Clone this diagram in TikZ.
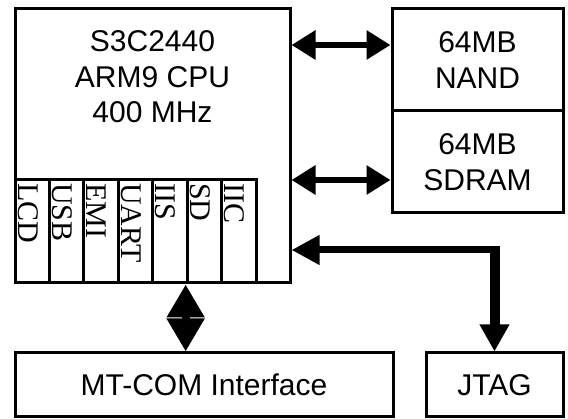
\documentclass[tikz,border=0pt]{standalone}
\usepackage{fontspec}
\setmainfont{Liberation Sans}
\newfontfamily\portfont{Liberation Serif}
\usepackage{tikz}
\usetikzlibrary{positioning,arrows.meta}

\tikzset{
  box/.style={draw, line width=3pt, inner sep=0pt},
  boxtext/.style={align=center, font=\fontsize{30}{35.5}\selectfont},
  port/.style={draw, line width=3pt, inner sep=0pt, minimum width=34.43pt, minimum height=103pt},
  portlabel/.style={rotate=-90, anchor=base west, inner sep=0pt, font=\portfont\fontsize{30}{30}\selectfont},
  bus/.style={line width=6pt, {Triangle[length=24pt,width=28pt]}-{Triangle[length=24pt,width=28pt]}},
}

\begin{document}
\begin{tikzpicture}[x=1pt, y=1pt]
\useasboundingbox (0,0) rectangle (568,419);

% CPU
\node[box, minimum width=275pt, minimum height=274pt] (cpu) at (152.5,273) {};
\node[boxtext] (cputext) at (152.5,342) {S3C2440\\ARM9 CPU\\400 MHz};

% Peripheral ports
\foreach \name/\txt [count=\i] in {lcd/LCD, usb/USB, emi/EMI, uart/UART, iis/IIS, sd/SD, iic/IIC} {
  \node[port] (\name) at ({15+34.43*(\i-0.5)}, 187.5) {};
  \node[portlabel] at ([xshift=4.5pt, yshift=-4.5pt]\name.north west) {\txt};
}

% Memory
\node[box, boxtext, minimum width=171pt, minimum height=102pt] (nand) at (477.5,359) {64MB\\NAND};
\node[box, boxtext, minimum width=171pt, minimum height=102pt] (sdram) at (477.5,257) {64MB\\SDRAM};

% Outside
\node[box, boxtext, minimum width=378pt, minimum height=64pt] (mtcom) at (204,34) {MT-COM Interface};
\node[box, boxtext, minimum width=137pt, minimum height=64pt] (jtag) at (494.5,34) {JTAG};

% Buses
\coordinate (nandport) at ([yshift=15pt]nand.west);
\coordinate (sdramport) at ([yshift=-18pt]sdram.west);
\draw[bus] (cpu.east |- nandport) -- (nandport);
\draw[bus] (cpu.east |- sdramport) -- (sdramport);

\coordinate (jtagbend) at (jtag.north |- 0,169);
\draw[line width=7pt, -{Triangle[length=28pt,width=28pt]}] ([xshift=5pt]jtagbend) -- (cpu.east |- jtagbend);
\draw[line width=10pt, -{Triangle[length=27pt,width=28pt]}] ([yshift=3.5pt]jtagbend) -- (jtag.north);

\draw[line width=8pt, {Triangle[length=33pt,width=36pt]}-{Triangle[length=33pt,width=36pt]}] (sd.south west) -- (mtcom.north -| sd.south west);
\end{tikzpicture}
\end{document}
